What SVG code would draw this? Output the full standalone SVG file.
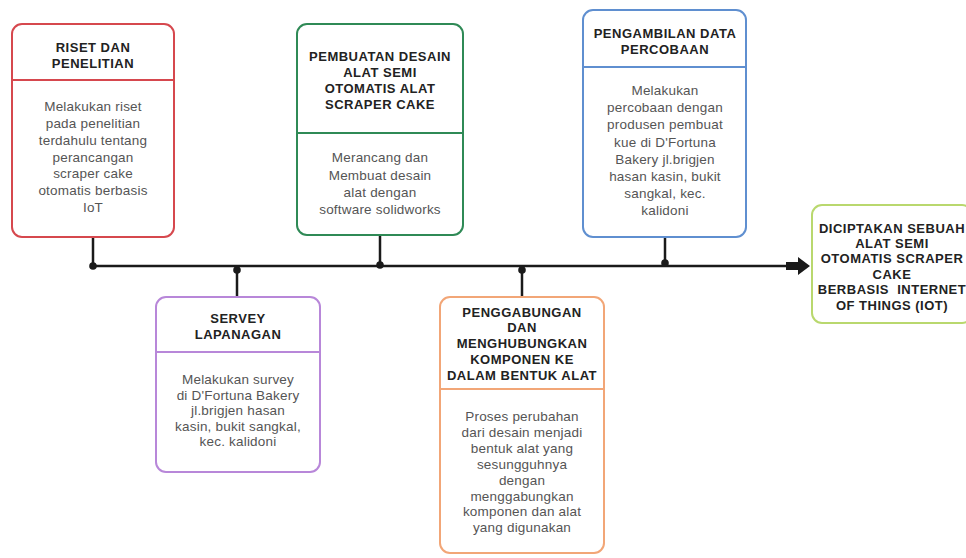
<svg xmlns="http://www.w3.org/2000/svg" width="966" height="558" viewBox="0 0 966 558">
<style>
.box{fill:#ffffff;stroke-width:2}
.div{stroke-width:1.8}
.t{font-family:"Liberation Sans",Arial,sans-serif;font-weight:700;font-size:13px;fill:#222222;text-anchor:middle;letter-spacing:0.5px}
.b{font-family:"Liberation Sans",Arial,sans-serif;font-size:13.5px;fill:#555555;text-anchor:middle;letter-spacing:0.2px}
.ln{stroke:#1a1a1a;stroke-width:2.5;fill:none}
.dot{fill:#1a1a1a}
</style>
<rect width="966" height="558" fill="#ffffff"/>
<g id="connectors">
<line class="ln" x1="93" y1="266" x2="788" y2="266"/>
<polygon points="786,262 798,262 798,257 810,266 798,275 798,270 786,270" fill="#1a1a1a"/>
<line class="ln" x1="93" y1="237" x2="93" y2="266"/>
<line class="ln" x1="380" y1="235" x2="380" y2="266"/>
<line class="ln" x1="665" y1="237" x2="665" y2="266"/>
<line class="ln" x1="237" y1="266" x2="237" y2="297"/>
<line class="ln" x1="522" y1="266" x2="522" y2="297"/>
<circle class="dot" cx="93" cy="266" r="3.8"/>
<circle class="dot" cx="237" cy="270" r="3.8"/>
<circle class="dot" cx="380" cy="265" r="3.8"/>
<circle class="dot" cx="522" cy="270" r="3.8"/>
<circle class="dot" cx="665" cy="263" r="3.8"/>
</g>
<g id="riset">
<rect class="box" x="12" y="24" width="162" height="213" rx="10" stroke="#d6484e"/>
<line class="div" x1="12" y1="80" x2="174" y2="80" stroke="#d6484e"/>
<text class="t" x="93" y="51.5">RISET DAN</text>
<text class="t" x="93" y="67.5">PENELITIAN</text>
<text class="b" x="93" y="111">Melakukan riset</text>
<text class="b" x="93" y="128">pada penelitian</text>
<text class="b" x="93" y="145">terdahulu tentang</text>
<text class="b" x="93" y="162">perancangan</text>
<text class="b" x="93" y="178">scraper cake</text>
<text class="b" x="93" y="195">otomatis berbasis</text>
<text class="b" x="93" y="212">IoT</text>
</g>
<g id="desain">
<rect class="box" x="297" y="24" width="166" height="211" rx="10" stroke="#2f8a56"/>
<line class="div" x1="297" y1="133" x2="463" y2="133" stroke="#2f8a56"/>
<text class="t" x="380" y="60.5">PEMBUATAN DESAIN</text>
<text class="t" x="380" y="77">ALAT SEMI</text>
<text class="t" x="380" y="92.5">OTOMATIS ALAT</text>
<text class="t" x="380" y="108.5">SCRAPER CAKE</text>
<text class="b" x="380" y="162">Merancang dan</text>
<text class="b" x="380" y="180">Membuat desain</text>
<text class="b" x="380" y="197">alat dengan</text>
<text class="b" x="380" y="214">software solidworks</text>
</g>
<g id="pengambilan">
<rect class="box" x="583" y="10" width="163" height="227" rx="10" stroke="#5f8fd0"/>
<line class="div" x1="583" y1="67" x2="746" y2="67" stroke="#5f8fd0"/>
<text class="t" x="665" y="37.5">PENGAMBILAN DATA</text>
<text class="t" x="665" y="53.5">PERCOBAAN</text>
<text class="b" x="665" y="95">Melakukan</text>
<text class="b" x="665" y="112.2">percobaan dengan</text>
<text class="b" x="665" y="129.4">produsen pembuat</text>
<text class="b" x="665" y="146.6">kue di D'Fortuna</text>
<text class="b" x="665" y="163.8">Bakery jl.brigjen</text>
<text class="b" x="665" y="181">hasan kasin, bukit</text>
<text class="b" x="665" y="198.2">sangkal, kec.</text>
<text class="b" x="665" y="215.4">kalidoni</text>
</g>
<g id="servey">
<rect class="box" x="156" y="297" width="164" height="175" rx="10" stroke="#b887d9"/>
<line class="div" x1="156" y1="352" x2="320" y2="352" stroke="#b887d9"/>
<text class="t" x="238" y="322.5">SERVEY</text>
<text class="t" x="238" y="338.5">LAPANAGAN</text>
<text class="b" x="238" y="384">Melakukan survey</text>
<text class="b" x="238" y="399.6">di D'Fortuna Bakery</text>
<text class="b" x="238" y="415.2">jl.brigjen hasan</text>
<text class="b" x="238" y="430.8">kasin, bukit sangkal,</text>
<text class="b" x="238" y="446.4">kec. kalidoni</text>
</g>
<g id="penggabungan">
<rect class="box" x="440" y="297" width="164" height="256" rx="10" stroke="#f2a677"/>
<line class="div" x1="440" y1="389" x2="604" y2="389" stroke="#f2a677"/>
<text class="t" x="522" y="316.5">PENGGABUNGAN</text>
<text class="t" x="522" y="332.3">DAN</text>
<text class="t" x="522" y="348.1">MENGHUBUNGKAN</text>
<text class="t" x="522" y="363.9">KOMPONEN KE</text>
<text class="t" x="522" y="379.7">DALAM BENTUK ALAT</text>
<text class="b" x="522" y="421">Proses perubahan</text>
<text class="b" x="522" y="436.9">dari desain menjadi</text>
<text class="b" x="522" y="452.8">bentuk alat yang</text>
<text class="b" x="522" y="468.7">sesungguhnya</text>
<text class="b" x="522" y="484.6">dengan</text>
<text class="b" x="522" y="500.5">menggabungkan</text>
<text class="b" x="522" y="516.4">komponen dan alat</text>
<text class="b" x="522" y="532.3">yang digunakan</text>
</g>
<g id="hasil">
<rect class="box" x="812" y="205" width="160" height="118" rx="10" stroke="#b9d86e"/>
<text class="t" x="892" y="232.5">DICIPTAKAN SEBUAH</text>
<text class="t" x="892" y="247.9">ALAT SEMI</text>
<text class="t" x="892" y="263.3">OTOMATIS SCRAPER</text>
<text class="t" x="892" y="278.7">CAKE</text>
<text class="t" x="892" y="294.1" style="white-space:pre">BERBASIS  INTERNET</text>
<text class="t" x="892" y="309.5">OF THINGS (IOT)</text>
</g>
</svg>
